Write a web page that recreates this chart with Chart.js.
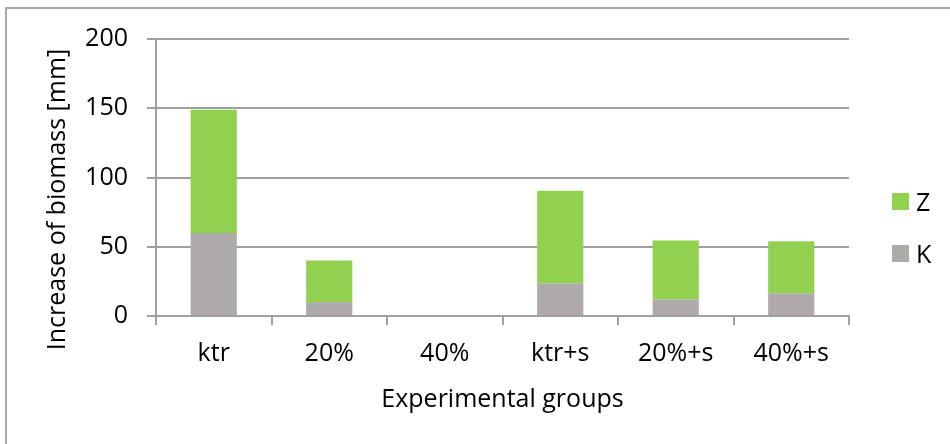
<!DOCTYPE html>
<html>
<head>
<meta charset="utf-8">
<script src="https://cdn.jsdelivr.net/npm/chart.js@4/dist/chart.umd.min.js"></script>
<style>
    body { margin: 0; background: #fff; }
    #wrap { position: relative; width: 950px; height: 444px; overflow: hidden; }
    #frame { position: absolute; left: 5px; top: 7px; width: 1000px; height: 500px;
             border-top: 2px solid #ababab; border-left: 2px solid #ababab; pointer-events: none; }
    #legend { position: absolute; left: 892px; top: 186px; font-family: 'Open Sans', sans-serif; font-size: 25px; color: #000; }
    .item { display: flex; align-items: center; height: 30px; line-height: 30px; margin-bottom: 22px; }
    .box { width: 17px; height: 17px; margin-right: 7px; }
</style>
</head>
<body>
<div id="wrap">
    <canvas id="chart" width="950" height="444"></canvas>
    <div id="frame"></div>
    <div id="legend"></div>
</div>
<script>
// 데이터
const categories = ['ktr', '20%', '40%', 'ktr+s', '20%+s', '40%+s'];
const valuesK = [60, 10, 0, 23.5, 12, 16.5];
const valuesZ = [89, 30, 0, 67, 42.5, 37.5];
const seriesNames = ['K', 'Z'];
const seriesColors = ['#aeaaaa', '#92d050'];
const yTitle = 'Increase of biomass [mm]';
const xTitle = 'Experimental groups';

const gridColor = '#a0a0a0';
const font = { family: "'Open Sans', sans-serif", size: 25 };

// 세로축 제목 (플롯 중앙보다 조금 아래에 그림)
const yTitlePlugin = {
    id: 'yTitle',
    afterDraw(chart) {
        const c = chart.ctx;
        const area = chart.chartArea;
        c.save();
        c.translate(chart.scales.y.left + 58, (area.top + area.bottom) / 2 + 22);
        c.rotate(-Math.PI / 2);
        c.font = "25px 'Open Sans', sans-serif";
        c.fillStyle = '#000';
        c.textAlign = 'center';
        c.textBaseline = 'middle';
        c.fillText(yTitle, 0, 0);
        c.restore();
    }
};

// 차트 초기화
const ctx = document.getElementById('chart').getContext('2d');
const chart = new Chart(ctx, {
    type: 'bar',
    data: {
        labels: categories,
        datasets: [
            { label: seriesNames[0], data: valuesK, backgroundColor: seriesColors[0] },
            { label: seriesNames[1], data: valuesZ, backgroundColor: seriesColors[1] }
        ]
    },
    options: {
        responsive: false,
        animation: false,
        devicePixelRatio: 1,
        layout: { padding: { left: 0, right: 101, top: 39, bottom: 0 } },
        datasets: { bar: { barPercentage: 0.4, categoryPercentage: 1 } },
        plugins: { legend: { display: false }, tooltip: { enabled: false } },
        scales: {
            x: {
                stacked: true,
                afterFit(scale) { scale.height = 128; },
                grid: { drawOnChartArea: false, drawTicks: true, tickLength: 9, color: gridColor, lineWidth: 2 },
                border: { color: gridColor, width: 2 },
                ticks: { font: font, color: '#000', padding: 14, maxRotation: 0 },
                title: { display: true, text: xTitle, font: font, color: '#000', padding: { top: 10, bottom: 29 } }
            },
            y: {
                stacked: true,
                min: 0,
                max: 200,
                afterFit(scale) { scale.width = 156; },
                grid: { color: gridColor, tickLength: 9, lineWidth: 2 },
                border: { color: gridColor, width: 2 },
                ticks: { stepSize: 50, font: font, color: '#000', padding: 19 }
            }
        }
    },
    plugins: [yTitlePlugin]
});

// 범례 (Z 위, K 아래)
const legend = document.getElementById('legend');
chart.data.datasets.slice().reverse().forEach(function(ds) {
    const item = document.createElement('div');
    item.className = 'item';
    const box = document.createElement('span');
    box.className = 'box';
    box.style.background = ds.backgroundColor;
    const text = document.createElement('span');
    text.textContent = ds.label;
    item.appendChild(box);
    item.appendChild(text);
    legend.appendChild(item);
});
</script>
</body>
</html>
